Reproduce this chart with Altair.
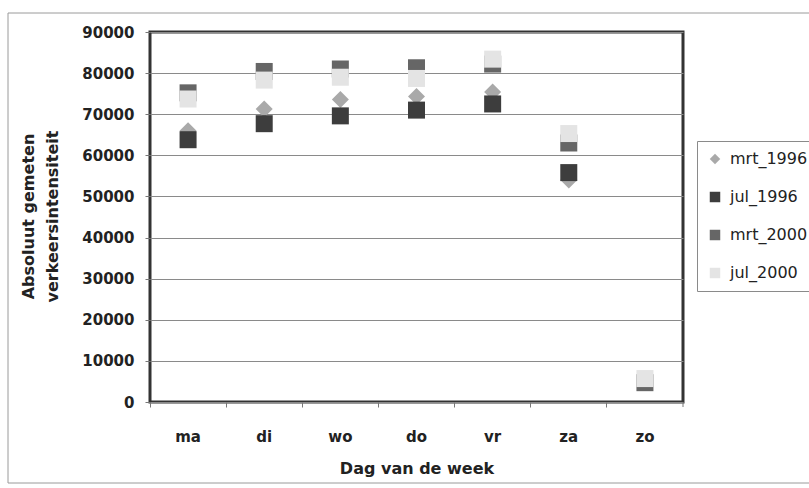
import altair as alt
import pandas as pd

# Gemeten verkeersintensiteit per dag van de week, vier meetperiodes
days = ["ma", "di", "wo", "do", "vr", "za", "zo"]
series = ["mrt_1996", "jul_1996", "mrt_2000", "jul_2000"]
mrt_1996 = [66000, 71300, 73600, 74300, 75400, 54000, None]
jul_1996 = [63800, 67700, 69600, 71000, 72500, 55800, None]
mrt_2000 = [75200, 80400, 81000, 81300, 82200, 63000, 4700]
jul_2000 = [73700, 78300, 79000, 78700, 83400, 65300, 5700]
y_ticks = [0, 10000, 20000, 30000, 40000, 50000, 60000, 70000, 80000, 90000]

colors = ["#a9a9a9", "#3d3d3d", "#666666", "#e4e4e4"]
shapes = ["diamond", "square", "square", "square"]

rows = []
for name, vals in zip(series, [mrt_1996, jul_1996, mrt_2000, jul_2000]):
    for d, v in zip(days, vals):
        if v is not None:
            rows.append({"dag": d, "reeks": name, "waarde": v})
df = pd.DataFrame(rows)

W, H = 533, 370
FONT = "DejaVu Sans"

legend = alt.Legend(
    title=None, orient="none", legendX=547, legendY=109,
    strokeColor="#8a8a8a", fillColor="white", padding=10,
    labelFont=FONT, labelFontSize=16, labelFontWeight="normal",
    labelColor="#222222", rowPadding=22, symbolSize=110,
    labelOffset=7, symbolStrokeWidth=0,
)

points = alt.Chart(df).mark_point(filled=True, size=289, opacity=1).encode(
    x=alt.X(
        "dag:N",
        sort=days,
        scale=alt.Scale(type="band", domain=days, paddingInner=0, paddingOuter=0),
        axis=alt.Axis(
            title="Dag van de week", labelAngle=0, bandPosition=0,
            labelBaseline="middle", labelPadding=29,
            tickSize=5, titleBaseline="middle", titleY=66,
        ),
    ),
    y=alt.Y(
        "waarde:Q",
        scale=alt.Scale(domain=[0, 90000], nice=False, zero=True),
        axis=alt.Axis(
            title=["Absoluut gemeten", "verkeersintensiteit"],
            values=y_ticks, format="d", grid=True, tickSize=5, labelPadding=11,
            titleX=-122, titleY=184, titleAlign="center",
            titleBaseline="middle", titleLineHeight=24,
        ),
    ),
    color=alt.Color("reeks:N", scale=alt.Scale(domain=series, range=colors), legend=legend),
    shape=alt.Shape("reeks:N", scale=alt.Scale(domain=series, range=shapes), legend=legend),
)

one = pd.DataFrame({"k": [0]})

# tick at the right end of the category axis
end_tick = alt.Chart(one).mark_rule(color="#777777", strokeWidth=1).encode(
    x=alt.value(W), y=alt.value(H), y2=alt.value(H + 5)
)

# thin frame around the whole figure (right side runs past the page edge)
frame = alt.Chart(one).mark_rect(
    fillOpacity=0, stroke="#9a9a9a", strokeWidth=1
).encode(
    x=alt.value(-142), x2=alt.value(720), y=alt.value(-19), y2=alt.value(451)
)

chart = alt.layer(frame, points, end_tick).properties(
    width=W, height=H,
    autosize=alt.AutoSizeParams(type="none"),
    padding={"left": 150, "top": 32, "right": 126, "bottom": 86},
    background="white",
).configure_view(
    stroke="#333333", strokeWidth=3
).configure_axis(
    labelFont=FONT, labelFontSize=15, labelFontWeight="bold", labelColor="#222222",
    titleFont=FONT, titleFontSize=16, titleFontWeight="bold", titleColor="#222222",
    domain=False, tickColor="#777777", gridColor="#8a8a8a", gridWidth=1,
)

chart.save("out.html", embed_options={"renderer": "svg", "actions": False})
